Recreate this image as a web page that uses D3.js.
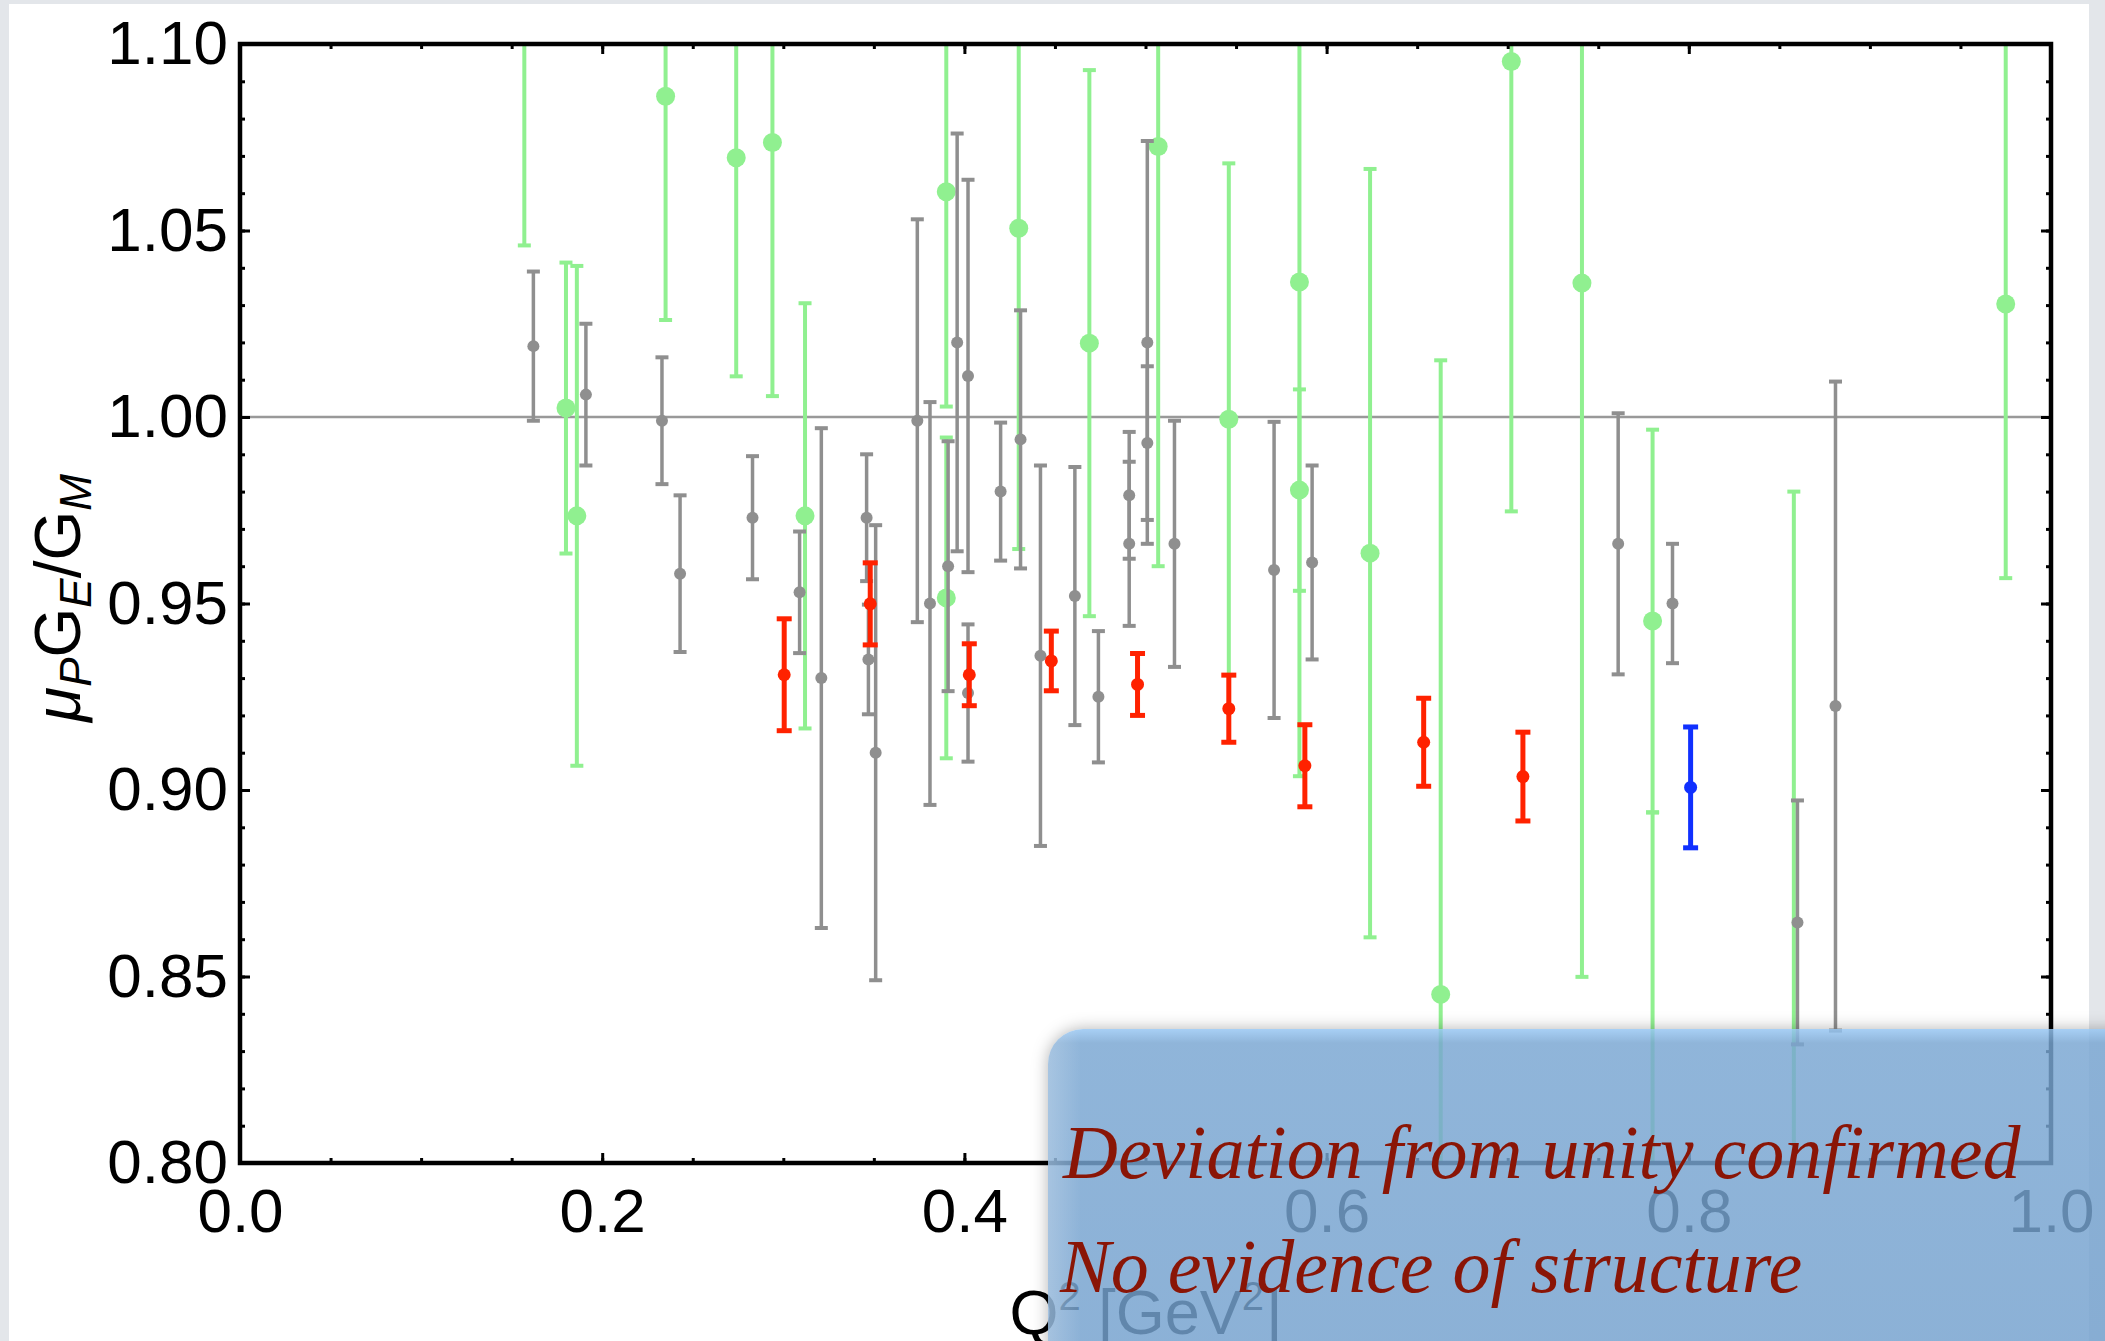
<!DOCTYPE html>
<html>
<head>
<meta charset="utf-8">
<script src="https://cdnjs.cloudflare.com/ajax/libs/d3/7.8.5/d3.min.js"></script>
<style>
  body { margin: 0; background: #e3e6ea; }
  svg { display: block; }
  .tick text { font-family: "Liberation Sans", Arial, sans-serif; font-size: 62px; fill: #000; }
</style>
</head>
<body>
<div id="chart"></div>
<script>

// gray points: Q^2, ratio, error

var grayQ   = [0.162, 0.191, 0.233, 0.243, 0.283, 0.309, 0.321, 0.346, 0.347, 0.351, 0.374, 0.381, 0.391, 0.396, 0.402, 0.402,
               0.420, 0.431, 0.442, 0.461, 0.474, 0.491, 0.491, 0.501, 0.501, 0.516, 0.571, 0.592, 0.761, 0.791, 0.860, 0.881];
var grayR   = [1.019, 1.006, 0.999, 0.958, 0.973, 0.953, 0.930, 0.973, 0.935, 0.910, 0.999, 0.950, 0.960, 1.020, 1.011, 0.926,
               0.980, 0.994, 0.936, 0.952, 0.925, 0.979, 0.966, 1.020, 0.993, 0.966, 0.959, 0.961, 0.966, 0.950, 0.8645, 0.9225];
var grayErr = [0.020, 0.019, 0.017, 0.021, 0.0165, 0.0163, 0.067, 0.017, 0.0147, 0.061, 0.054, 0.054, 0.0335, 0.056, 0.0526, 0.0184,
               0.0185, 0.0346, 0.051, 0.0346, 0.0176, 0.017, 0.022, 0.054, 0.0206, 0.033, 0.0397, 0.026, 0.035, 0.016, 0.0327, 0.087];

// green points

var greenQ   = [0.157, 0.180, 0.186, 0.235, 0.274, 0.294, 0.312, 0.390, 0.390, 0.430, 0.469, 0.507,
                0.546, 0.585, 0.585, 0.624, 0.663, 0.702, 0.741, 0.780, 0.780, 0.858, 0.975];
var greenR   = [1.160, 1.0024, 0.9735, 1.086, 1.0695, 1.0736, 0.9735, 1.0604, 0.9515, 1.0506, 1.0198, 1.0725,
                0.9994, 1.0362, 0.9804, 0.9635, 0.8452, 1.0953, 1.0359, 0.9453, 0.760, 0.780, 1.0303];
var greenErr = [0.114, 0.039, 0.067, 0.060, 0.0586, 0.068, 0.057, 0.0576, 0.043, 0.086, 0.0732, 0.1125,
                0.0686, 0.1325, 0.027, 0.103, 0.170, 0.1206, 0.186, 0.0513, 0.134, 0.200, 0.0735];

// red points

var redQ   = [0.3005, 0.348, 0.4027, 0.448, 0.4956, 0.546, 0.588, 0.6536, 0.7084];
var redR   = [0.9309, 0.9499, 0.9309, 0.9346, 0.9283, 0.9218, 0.9065, 0.9128, 0.9036];
var redErr = [0.015, 0.011, 0.0083, 0.008, 0.0083, 0.009, 0.011, 0.0118, 0.0119];

// blue point

var blueQ   = [0.801];
var blueR   = [0.9007];
var blueErr = [0.0162];

// axis ticks

var xMajor = [0, 0.2, 0.4, 0.6, 0.8, 1.0];
var xMinor = d3.range(0, 1.0001, 0.05);
var yMajor = [0.80, 0.85, 0.90, 0.95, 1.00, 1.05, 1.10];
var yMinor = d3.range(0.80, 1.1001, 0.01);

var lines = ["Deviation from unity confirmed", "No evidence of structure"];

// sizes

var width = 2105,
    height = 1341,
    plotLeft = 240,
    plotRight = 2051,
    plotTop = 44,
    plotBottom = 1163;

var x = d3.scaleLinear().domain([0, 1]).range([plotLeft, plotRight]);
var y = d3.scaleLinear().domain([0.80, 1.10]).range([plotBottom, plotTop]);

var svg = d3.select("#chart").append("svg")
  .attr("width", width)
  .attr("height", height);

var defs = svg.append("defs");

defs.append("clipPath")
  .attr("id", "plotClip")
  .append("rect")
    .attr("x", plotLeft)
    .attr("y", plotTop)
    .attr("width", plotRight - plotLeft)
    .attr("height", plotBottom - plotTop);

// page background and white panel

svg.append("rect")
  .attr("width", width)
  .attr("height", height)
  .attr("fill", "#e3e6ea");

svg.append("rect")
  .attr("x", 9)
  .attr("y", 4)
  .attr("width", 2080)
  .attr("height", height)
  .attr("fill", "#fff");

// unity line

svg.append("line")
  .attr("x1", plotLeft)
  .attr("x2", plotRight)
  .attr("y1", y(1))
  .attr("y2", y(1))
  .attr("stroke", "#999")
  .attr("stroke-width", 2.5);

// error bars with dots

function drawSeries(q, r, err, color, lineW, capW, capH, dotR) {
  var rows = d3.zip(q, r, err);
  var g = svg.append("g").attr("clip-path", "url(#plotClip)");

  g.selectAll(".bar")
    .data(rows)
    .enter()
      .append("line")
        .attr("x1", function(d) { return x(d[0]); })
        .attr("x2", function(d) { return x(d[0]); })
        .attr("y1", function(d) { return y(d[1] + d[2]); })
        .attr("y2", function(d) { return y(d[1] - d[2]); })
        .attr("stroke", color)
        .attr("stroke-width", lineW);

  [1, -1].forEach(function(s) {
    g.selectAll(".cap" + s)
      .data(rows)
      .enter()
        .append("line")
          .attr("x1", function(d) { return x(d[0]) - capW / 2; })
          .attr("x2", function(d) { return x(d[0]) + capW / 2; })
          .attr("y1", function(d) { return y(d[1] + s * d[2]); })
          .attr("y2", function(d) { return y(d[1] + s * d[2]); })
          .attr("stroke", color)
          .attr("stroke-width", capH);
  });

  g.selectAll("circle")
    .data(rows)
    .enter()
      .append("circle")
        .attr("cx", function(d) { return x(d[0]); })
        .attr("cy", function(d) { return y(d[1]); })
        .attr("r", dotR)
        .attr("fill", color);
}

drawSeries(greenQ, greenR, greenErr, "#90f090", 4, 13, 4, 9.5);
drawSeries(grayQ, grayR, grayErr, "#8f8f8f", 3.5, 13, 4, 6);
drawSeries(redQ, redR, redErr, "#ff2200", 5, 15, 5, 6.5);
drawSeries(blueQ, blueR, blueErr, "#1030ff", 5, 15, 5, 6.5);

// axes: ticks point inward

function tickStyle(g) {
  g.select(".domain").remove();
  g.selectAll(".tick line").attr("stroke", "#000").attr("stroke-width", 3);
}

svg.append("g")
  .attr("transform", "translate(0," + plotBottom + ")")
  .call(d3.axisBottom(x).tickValues(xMinor).tickSize(-5).tickFormat(""))
  .call(tickStyle);

svg.append("g")
  .attr("transform", "translate(0," + plotBottom + ")")
  .call(d3.axisBottom(x).tickValues(xMajor).tickSize(-10).tickPadding(25).tickFormat(d3.format(".1f")))
  .call(tickStyle);

svg.append("g")
  .attr("transform", "translate(0," + plotTop + ")")
  .call(d3.axisTop(x).tickValues(xMinor).tickSize(-5).tickFormat(""))
  .call(tickStyle);

svg.append("g")
  .attr("transform", "translate(0," + plotTop + ")")
  .call(d3.axisTop(x).tickValues(xMajor).tickSize(-10).tickFormat(""))
  .call(tickStyle);

svg.append("g")
  .attr("transform", "translate(" + plotLeft + ",0)")
  .call(d3.axisLeft(y).tickValues(yMinor).tickSize(-5).tickFormat(""))
  .call(tickStyle);

svg.append("g")
  .attr("transform", "translate(" + plotLeft + ",0)")
  .call(d3.axisLeft(y).tickValues(yMajor).tickSize(-10).tickPadding(12).tickFormat(d3.format(".2f")))
  .call(tickStyle);

svg.append("g")
  .attr("transform", "translate(" + plotRight + ",0)")
  .call(d3.axisRight(y).tickValues(yMinor).tickSize(-5).tickFormat(""))
  .call(tickStyle);

svg.append("g")
  .attr("transform", "translate(" + plotRight + ",0)")
  .call(d3.axisRight(y).tickValues(yMajor).tickSize(-10).tickFormat(""))
  .call(tickStyle);

// frame

svg.append("rect")
  .attr("x", plotLeft)
  .attr("y", plotTop)
  .attr("width", plotRight - plotLeft)
  .attr("height", plotBottom - plotTop)
  .attr("fill", "none")
  .attr("stroke", "#000")
  .attr("stroke-width", 4.5);

// axis titles

var yTitle = svg.append("text")
  .attr("transform", "translate(80,598) rotate(-90)")
  .attr("text-anchor", "middle")
  .style("font-family", "Liberation Sans, Arial, sans-serif")
  .style("font-size", "64px");

yTitle.append("tspan").style("font-style", "italic").text("\u03bc");
yTitle.append("tspan").attr("dy", 11).style("font-style", "italic").style("font-size", "44px").text("P");
yTitle.append("tspan").attr("dy", -11).text("G");
yTitle.append("tspan").attr("dy", 11).style("font-style", "italic").style("font-size", "44px").text("E");
yTitle.append("tspan").attr("dy", -11).text("/G");
yTitle.append("tspan").attr("dy", 11).style("font-style", "italic").style("font-size", "44px").text("M");

var xTitle = svg.append("text")
  .attr("x", x(0.5))
  .attr("y", 1334)
  .attr("text-anchor", "middle")
  .style("font-family", "Liberation Sans, Arial, sans-serif")
  .style("font-size", "63px");

xTitle.append("tspan").text("Q");
xTitle.append("tspan").attr("dy", -24).style("font-size", "40px").text("2");
xTitle.append("tspan").attr("dy", 24).text(" [GeV");
xTitle.append("tspan").attr("dy", -24).style("font-size", "40px").text("2");
xTitle.append("tspan").attr("dy", 24).text("]");

// blue note box

var shadow = defs.append("filter")
  .attr("id", "boxShadow")
  .attr("x", "-10%").attr("y", "-20%")
  .attr("width", "120%").attr("height", "140%");
shadow.append("feGaussianBlur").attr("in", "SourceAlpha").attr("stdDeviation", 8).attr("result", "blur");
shadow.append("feComposite").attr("in", "blur").attr("in2", "SourceAlpha").attr("operator", "out").attr("result", "outer");
shadow.append("feFlood").attr("flood-color", "#000").attr("flood-opacity", 0.3);
shadow.append("feComposite").attr("in2", "outer").attr("operator", "in");

var vGrad = defs.append("linearGradient")
  .attr("id", "boxFill")
  .attr("x1", 0).attr("y1", 0).attr("x2", 0).attr("y2", 1);
vGrad.append("stop").attr("offset", 0).attr("stop-color", "#96c6f3");
vGrad.append("stop").attr("offset", 0.035).attr("stop-color", "#79a6d2");
vGrad.append("stop").attr("offset", 1).attr("stop-color", "#73a0cd");

var hGrad = defs.append("linearGradient")
  .attr("id", "boxEdge")
  .attr("x1", 0).attr("y1", 0).attr("x2", 1).attr("y2", 0);
hGrad.append("stop").attr("offset", 0).attr("stop-color", "#fff").attr("stop-opacity", 0.22);
hGrad.append("stop").attr("offset", 0.03).attr("stop-color", "#fff").attr("stop-opacity", 0);

var boxX = 1048, boxY = 1029;

svg.append("rect")
  .attr("x", boxX).attr("y", boxY)
  .attr("width", 1100).attr("height", 400)
  .attr("rx", 35)
  .attr("fill", "#000")
  .attr("filter", "url(#boxShadow)");

svg.append("rect")
  .attr("x", boxX).attr("y", boxY)
  .attr("width", 1100).attr("height", 400)
  .attr("rx", 35)
  .attr("fill", "url(#boxFill)")
  .attr("fill-opacity", 0.83);

svg.append("rect")
  .attr("x", boxX).attr("y", boxY)
  .attr("width", 1100).attr("height", 400)
  .attr("rx", 35)
  .attr("fill", "url(#boxEdge)");

svg.selectAll(".note")
  .data(lines)
  .enter()
    .append("text")
      .attr("class", "note")
      .attr("x", function(d, i) { return i == 0 ? 1063 : 1060; })
      .attr("y", function(d, i) { return i == 0 ? 1178 : 1292; })
      .style("font-family", "Liberation Serif, Times New Roman, serif")
      .style("font-style", "italic")
      .style("font-size", "76px")
      .attr("fill", "#8a1506")
      .text(function(d) { return d; });

</script>
</body>
</html>
